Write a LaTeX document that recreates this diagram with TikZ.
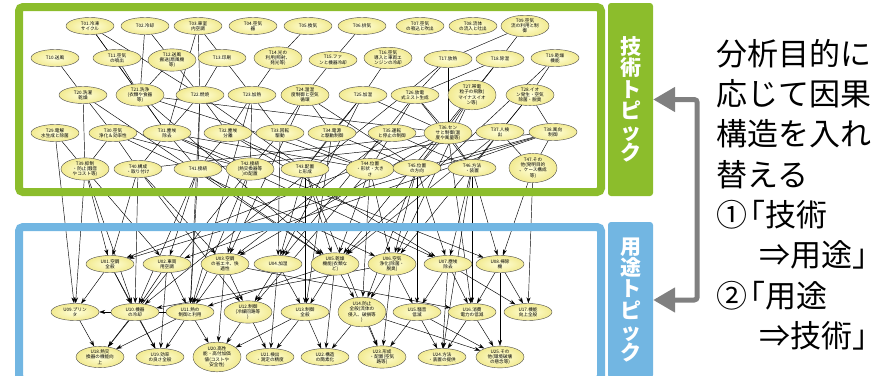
\documentclass[tikz,border=0pt]{standalone}
\usepackage{fontspec}
\usetikzlibrary{shapes.geometric, arrows.meta, backgrounds}
\newfontfamily\jpfont{Noto Sans CJK JP}
\definecolor{techgreen}{RGB}{140,189,44}
\definecolor{useblue}{RGB}{114,182,226}
\definecolor{swapgray}{RGB}{128,128,128}
\definecolor{topicin}{RGB}{255,255,218}
\definecolor{topicout}{RGB}{242,234,145}

\begin{document}
\begin{tikzpicture}[
    x=1pt, y=-1pt,
    topic/.style={ellipse, draw=black!70, line width=0.4pt, inner color=topicin, outer color=topicout, minimum width=48pt, minimum height=17pt, inner sep=0.3pt, align=center, font=\jpfont\fontsize{4.6}{5.2}\selectfont},
    link/.style={line width=0.45pt},
    cause/.style={line width=0.45pt, -{Stealth[length=6pt,width=4pt]}},
    boxframe/.style={line width=8pt, rounded corners=4pt},
    tagbar/.style={rectangle, rounded corners=3pt, minimum width=45pt, inner sep=0pt, text=white, align=center, font=\jpfont\bfseries\fontsize{21}{21.2}\selectfont},
    swaparrow/.style={line width=5pt, draw=swapgray, rounded corners=3pt, {Triangle[length=22pt,width=24pt]}-{Triangle[length=22pt,width=24pt]}},
    note/.style={inner sep=0pt, align=left, font=\jpfont\fontsize{31}{40.3}\selectfont}
]
\useasboundingbox (0,0) rectangle (889,375);

% technology topics
\node[topic] (t01) at (90,26) {T01.冷凍\\サイクル};
\node[topic] (t02) at (145,26) {T02.冷却};
\node[topic] (t03) at (198,26) {T03.車室\\内空調};
\node[topic] (t04) at (253,26) {T04.空気\\器};
\node[topic] (t05) at (308,26) {T05.換気};
\node[topic] (t06) at (362,26) {T06.排気};
\node[topic] (t07) at (420,26) {T07.空気\\の吸込と吹出};
\node[topic] (t08) at (473,26) {T08.流体\\の流入と吐出};
\node[topic] (t09) at (525,26) {T09.空気\\流の利用と制\\御};

\node[topic] (t10) at (55,58) {T10.送風};
\node[topic] (t11) at (117,58) {T11.空気\\の噴出};
\node[topic] (t12) at (172,60) {T12.送風\\搬送(扇風機\\等)};
\node[topic] (t13) at (222,58) {T13.印刷};
\node[topic] (t14) at (278,58) {T14.光の\\利用(照射、\\発光等)};
\node[topic] (t15) at (333,60) {T15.ファ\\ンと機器冷却};
\node[topic] (t16) at (388,58) {T16.空気\\導入と車両エ\\ンジンの冷却};
\node[topic] (t17) at (448,59) {T17.放熱};
\node[topic] (t18) at (500,59) {T18.除湿};
\node[topic] (t19) at (555,58) {T19.乾燥\\機能};

\node[topic] (t20) at (83,95) {T20.洗濯\\乾燥};
\node[topic] (t21) at (140,95) {T21.洗浄\\(衣類や食器\\等)};
\node[topic] (t22) at (200,95) {T22.燃焼};
\node[topic] (t23) at (252,95) {T23.加熱};
\node[topic] (t24) at (305,95) {T24.温湿\\度制御と空気\\循環};
\node[topic] (t25) at (363,95) {T25.加湿};
\node[topic] (t26) at (415,95) {T26.放電\\式ミスト生成};
\node[topic] (t27) at (472,95) {T27.帯電\\粒子の飛散(\\マイナスイオ\\ン等)};
\node[topic] (t28) at (530,95) {T28.イオ\\ン発生・空気\\除菌・脱臭};

\node[topic] (t29) at (55,133) {T29.電解\\水生成と除菌};
\node[topic] (t30) at (113,133) {T30.空気\\浄化＆効率性};
\node[topic] (t31) at (167,133) {T31.塵埃\\除去};
\node[topic] (t32) at (228,133) {T32.塵埃\\分離};
\node[topic] (t33) at (280,133) {T33.回転\\駆動};
\node[topic] (t34) at (332,133) {T34.電源\\と駆動制御};
\node[topic] (t35) at (392,133) {T35.運転\\と停止の制御};
\node[topic] (t36) at (448,133) {T36.セン\\サと制御(温\\度や風量等)};
\node[topic] (t37) at (500,132) {T37.人検\\出};
\node[topic] (t38) at (553,132) {T38.風向\\制御};

\node[topic] (t39) at (85,169) {T39.抑制\\・防止(騒音\\やコスト等)};
\node[topic] (t40) at (138,169) {T40.構成\\・取り付け};
\node[topic] (t41) at (198,169) {T41.接続};
\node[topic] (t42) at (250,169) {T42.接続\\(熱交換器等\\)の配置};
\node[topic] (t43) at (305,169) {T43.配置\\と形成};
\node[topic] (t44) at (370,169) {T44.位置\\・形状・大き\\さ};
\node[topic] (t45) at (417,168) {T45.位置\\の方向};
\node[topic] (t46) at (472,168) {T46.方法\\・装置};
\node[topic] (t47) at (533,168) {T47.その\\他(発明目的\\、ケース構成\\等)};

% application topics
\node[topic] (u01) at (110,264) {U01.空調\\全般};
\node[topic] (u02) at (167,264) {U02.車両\\用空調};
\node[topic] (u03) at (225,264) {U03.空調\\の省エネ、快\\適性};
\node[topic] (u04) at (278,264) {U04.加湿};
\node[topic] (u05) at (335,264) {U05.乾燥\\機能(衣類な\\ど)};
\node[topic] (u06) at (392,264) {U06.空気\\浄化(除菌・\\脱臭)};
\node[topic] (u07) at (448,264) {U07.塵埃\\除去};
\node[topic] (u08) at (500,264) {U08.掃除\\機};

\node[topic] (u09) at (75,312) {U09.プリン\\タ};
\node[topic] (u10) at (135,312) {U10.機器\\の冷却};
\node[topic] (u11) at (190,312) {U11.熱の\\制御と利用};
\node[topic] (u12) at (248,312) {U12.制御\\(冷媒回路等\\)};
\node[topic] (u13) at (305,312) {U13.制御\\全般};
\node[topic] (u14) at (362,312) {U14.防止\\全般(流体の\\侵入、破損等\\)};
\node[topic] (u15) at (417,312) {U15.騒音\\低減};
\node[topic] (u16) at (472,312) {U16.消費\\電力の低減};
\node[topic] (u17) at (528,312) {U17.機能\\向上全般};

\node[topic] (u18) at (100,357) {U18.熱交\\換器の機能向\\上};
\node[topic] (u19) at (160,357) {U19.効率\\の良さ全般};
\node[topic] (u20) at (217,357) {U20.高性\\能・高付加価\\値(コストや\\安全性)};
\node[topic] (u21) at (270,357) {U21.検出\\・測定の精度};
\node[topic] (u22) at (325,357) {U22.構造\\の簡素化};
\node[topic] (u23) at (382,357) {U23.形成\\・配置(空気\\路等)};
\node[topic] (u24) at (442,357) {U24.方法\\・装置の提供};
\node[topic] (u25) at (500,357) {U25.その\\他(環境破壊\\の懸念等)};

% causal links behind the nodes
\begin{scope}[on background layer]
\foreach \a/\b in {t01/t21, t01/t22, t01/t31, t02/t12, t02/t21, t03/t22, t03/t23, t03/t31,
    t10/t20, t11/t21, t12/t21, t12/t22, t13/t22, t05/t14, t14/t23, t15/t24, t06/t15,
    t16/t25, t09/t17, t09/t18, t17/t26, t17/t36, t18/t26, t18/t27, t19/t28,
    t20/t30, t20/t39, t21/t31, t21/t36, t21/t44, t22/t31, t22/t32, t22/t41, t22/t43,
    t23/t32, t23/t33, t23/t42, t24/t33, t24/t34, t24/t45, t25/t34, t25/t36, t25/t43,
    t26/t35, t26/t36, t26/t46, t27/t36, t27/t45, t28/t37, t28/t38,
    t29/t39, t30/t39, t30/t40, t30/t42, t31/t40, t31/t41, t31/t44, t32/t41, t32/t43,
    t33/t42, t33/t44, t34/t43, t34/t45, t35/t44, t35/t46, t36/t45, t36/t46, t36/t40,
    t37/t46, t37/t47, t38/t45, t38/t47, t38/t41}
    \draw[link] (\a) -- (\b);
\foreach \a/\b in {t39/u01, t39/u09, t39/u10, t40/u01, t40/u03, t40/u10, t41/u02, t41/u11,
    t41/u05, t42/u03, t42/u11, t42/u18, t43/u04, t43/u05, t43/u13, t44/u05, t44/u06,
    t44/u14, t45/u06, t45/u07, t45/u15, t46/u07, t46/u08, t46/u16, t47/u08, t47/u17,
    t29/u09, t30/u06, t31/u07, t31/u08, t32/u07, t33/u04, t34/u13, t35/u03, t36/u01,
    t36/u03, t36/u16, t37/u05, t38/u02, t38/u01, t22/u11, t21/u05, t20/u05, t26/u04,
    t25/u04, t27/u06, t28/u06, t17/u10, t23/u11, t24/u03, t18/u05, t19/u05, t39/u02,
    t40/u12, t41/u10, t44/u12, t45/u14, t46/u24, t43/u23}
    \draw[cause] (\a) -- (\b);
\foreach \a/\b in {u01/u09, u01/u10, u01/u19, u02/u10, u02/u11, u02/u19, u03/u11, u03/u12,
    u03/u20, u03/u16, u04/u12, u04/u13, u04/u21, u05/u13, u05/u14, u05/u22, u06/u14,
    u06/u15, u06/u23, u07/u15, u07/u16, u07/u24, u08/u16, u08/u17, u08/u25, u09/u18,
    u10/u18, u10/u19, u11/u09, u11/u18, u11/u19, u11/u20, u12/u20, u12/u21, u13/u20,
    u13/u21, u13/u22, u14/u22, u14/u23, u14/u25, u15/u23, u15/u24, u15/u25, u16/u24,
    u16/u25, u06/u10, u05/u11, u07/u17}
    \draw[cause] (\a) -- (\b);
\end{scope}

% frames
\draw[boxframe, draw=techgreen] (19,7) rectangle (601,192);
\draw[boxframe, draw=useblue] (19,227) rectangle (601,380);

% side tags
\node[tagbar, fill=techgreen, minimum height=193pt] (techbar) at (630.5,99.5) {技\\術\\ト\\ピ\\ッ\\ク};
\node[tagbar, fill=useblue, minimum height=156pt] (usebar) at (630.5,300) {用\\途\\ト\\ピ\\ッ\\ク};
\draw[swaparrow] (techbar.east) -- ++(44,0) |- (usebar.east);

\node[note, anchor=north west] (purpose) at (716,39) {分析目的に\\応じて因果\\構造を入れ\\替える\\①\kern-0.4em「技術\\\hspace*{1.4em}⇒用途」\\②\kern-0.4em「用途\\\hspace*{1.4em}⇒技術」};

\end{tikzpicture}
\end{document}
